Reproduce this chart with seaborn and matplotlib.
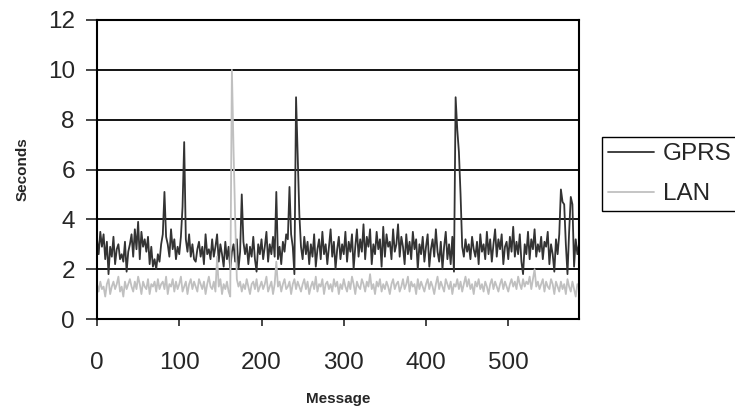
import matplotlib
matplotlib.use("Agg")
import matplotlib.pyplot as plt
import pandas as pd
import seaborn as sns

# Message number (values every second message)
messages = list(range(0, 588, 2))

# Response time per message over GPRS, seconds
gprs = [
    3.2, 2.6, 3.5, 2.9, 3.4, 2.4, 3.1, 1.8, 2.9, 2.5,
    3.3, 2.2, 2.8, 3.0, 2.4, 2.6, 2.3, 3.1, 1.9, 2.7,
    3.0, 3.4, 2.5, 3.6, 2.8, 3.9, 2.4, 3.5, 2.9, 3.2,
    2.7, 3.3, 2.2, 2.9, 2.1, 2.4, 2.0, 2.6, 2.3, 3.0,
    3.4, 5.1, 3.3, 3.0, 2.5, 3.6, 2.8, 3.2, 2.4, 2.9,
    2.6, 3.3, 4.5, 7.1, 3.2, 2.7, 3.4, 2.5, 3.0, 2.4,
    2.3, 2.8, 3.1, 2.5, 2.9, 2.2, 3.4, 2.6, 2.8, 2.4,
    3.2, 2.5, 2.9, 3.4, 2.3, 3.0, 2.6, 2.1, 3.1, 2.4,
    2.9, 2.0, 2.7, 3.0, 2.3, 3.2, 2.0, 2.7, 5.0, 3.1,
    2.6, 3.0, 2.2, 2.9, 2.5, 3.3, 2.4, 1.9, 3.0, 2.6,
    3.2, 2.4, 2.9, 3.5, 2.3, 3.0, 2.6, 3.3, 2.5, 5.1,
    2.4, 2.9, 2.2, 3.1, 2.7, 3.4, 3.2, 5.3, 3.4, 2.9,
    1.8, 8.9, 6.6, 4.2, 2.9, 2.4, 3.3, 2.6, 3.1, 2.2,
    3.0, 2.5, 3.4, 2.1, 2.8, 3.2, 2.4, 3.5, 2.6, 3.0,
    2.2, 2.9, 3.6, 2.5, 3.1, 2.0, 2.8, 3.3, 2.4, 3.0,
    2.6, 3.5, 2.3, 3.1, 2.7, 3.4, 2.0, 2.9, 3.6, 2.5,
    3.2, 2.7, 3.8, 2.4, 3.3, 2.9, 3.6, 2.2, 3.0, 2.6,
    3.5, 2.8, 3.2, 2.1, 3.7, 2.5, 3.4, 2.9, 3.1, 2.4,
    3.6, 2.7, 3.0, 3.8, 2.5, 3.3, 2.9, 2.2, 3.4, 2.6,
    3.1, 2.4, 3.5, 2.8, 3.2, 2.0, 3.0, 2.6, 3.3, 2.3,
    2.9, 3.4, 2.1, 2.8, 3.2, 2.5, 3.6, 2.7, 2.3, 3.1,
    2.0, 2.9, 3.5, 2.4, 3.0, 2.2, 3.3, 1.9, 8.9, 7.6,
    6.7, 5.0, 2.9, 2.5, 3.2, 2.7, 3.0, 2.4, 3.3, 2.8,
    2.5, 3.1, 2.2, 3.4, 2.7, 3.0, 2.4, 3.5, 2.6, 3.2,
    2.3, 3.0, 3.6, 2.5, 3.2, 2.8, 3.4, 2.2, 2.9, 3.1,
    2.4, 3.3, 2.7, 3.7, 2.5, 3.1, 2.6, 3.4, 2.3, 1.8,
    3.0, 2.6, 3.5, 2.4, 3.2, 2.8, 3.6, 2.5, 3.0, 2.7,
    3.3, 2.4, 3.1, 2.9, 3.5, 2.2, 3.0, 2.6, 1.9, 3.2,
    2.6, 3.4, 5.2, 4.7, 4.6, 3.0, 1.8, 3.5, 4.9, 4.6,
    2.1, 3.2, 2.6, 3.0,
]

# Response time per message over LAN, seconds
lan = [
    1.4, 1.1, 1.5, 1.2, 1.3, 0.9, 1.4, 1.6, 1.0, 1.3,
    1.5, 1.2, 1.4, 1.7, 1.1, 1.3, 0.9, 1.5, 1.2, 1.4,
    1.6, 1.3, 1.1, 1.5, 1.2, 1.7, 1.4, 1.0, 1.5, 1.3,
    1.2, 1.6, 1.0, 1.4, 1.3, 1.5, 1.1, 1.6, 1.2, 1.4,
    1.5, 1.2, 1.7, 1.0, 1.4, 1.3, 1.6, 1.1, 1.5, 1.2,
    1.4, 1.7, 1.1, 1.3, 1.5, 1.0, 1.4, 1.6, 1.2, 1.5,
    1.3, 1.1, 1.6, 1.4, 1.2, 1.5, 1.0, 1.4, 1.7, 1.3,
    1.2, 1.5, 1.1, 2.5, 1.3, 1.6, 1.0, 1.4, 1.2, 1.5,
    1.1, 0.9, 10.0, 6.8, 4.0, 1.6, 1.3, 1.5, 1.1, 1.4,
    1.2, 1.6, 1.3, 1.0, 1.4, 1.5, 1.2, 1.6, 1.1, 1.3,
    1.5, 1.2, 1.4, 1.7, 1.1, 1.3, 1.5, 1.0, 1.4, 2.3,
    1.3, 1.5, 1.1, 1.4, 1.6, 1.2, 1.3, 1.5, 1.0, 1.4,
    1.6, 1.2, 1.5, 1.3, 1.1, 1.4, 1.6, 1.2, 1.5, 1.0,
    1.3, 1.5, 1.2, 1.7, 1.1, 1.4, 1.3, 1.6, 1.0, 1.4,
    1.5, 1.2, 1.4, 1.1, 1.6, 1.3, 1.5, 1.0, 1.4, 1.2,
    1.6, 1.3, 1.1, 1.5, 1.2, 1.7, 1.4, 1.0, 1.5, 1.3,
    1.2, 1.6, 1.4, 1.1, 1.5, 1.3, 1.8, 1.2, 1.4, 1.0,
    1.5, 1.3, 1.6, 1.1, 1.4, 1.2, 1.5, 1.3, 1.0, 1.4,
    1.6, 1.2, 1.4, 1.5, 1.1, 1.3, 1.6, 1.2, 1.4, 1.7,
    1.1, 1.5, 1.3, 1.4, 1.0, 1.6, 1.2, 1.5, 1.3, 1.1,
    1.4, 1.6, 1.2, 1.5, 1.3, 1.0, 1.4, 1.7, 1.2, 1.5,
    1.3, 1.1, 1.6, 1.4, 1.2, 1.5, 1.0, 1.4, 1.3, 1.6,
    1.2, 1.5, 1.1, 1.4, 1.7, 1.3, 1.6, 1.2, 1.4, 1.0,
    1.5, 1.3, 1.6, 1.2, 1.4, 1.1, 1.5, 1.3, 1.0, 1.4,
    1.6, 1.2, 1.5, 1.3, 1.1, 1.4, 1.6, 1.2, 1.5, 1.3,
    1.1, 1.4, 1.6, 1.3, 1.5, 1.2, 1.7, 1.4, 1.2, 1.6,
    1.3, 1.5, 1.4, 1.7, 1.2, 1.6, 2.0, 1.3, 1.5, 1.2,
    1.4, 1.6, 1.1, 1.5, 1.3, 1.2, 1.6, 1.4, 1.0, 1.5,
    1.3, 1.1, 1.5, 1.2, 1.4, 1.0, 1.6, 1.3, 1.1, 1.5,
    1.2, 0.9, 1.4, 1.3,
]

series_names = ["GPRS", "LAN"]
series_colors = ["#333333", "#c0c0c0"]
y_ticks = [0, 2, 4, 6, 8, 10, 12]
x_ticks = [0, 100, 200, 300, 400, 500]

# Long format for seaborn
df = pd.concat([
    pd.DataFrame({"Message": messages, "Seconds": gprs, "Series": "GPRS"}),
    pd.DataFrame({"Message": messages, "Seconds": lan, "Series": "LAN"}),
])

sns.set_style("white")
plt.rcParams["font.family"] = ["Liberation Sans", "DejaVu Sans"]

fig = plt.figure(figsize=(7.35, 4.12), dpi=100)
ax = fig.add_axes([97 / 735, 93 / 412, 482 / 735, 299 / 412])

sns.lineplot(data=df, x="Message", y="Seconds", hue="Series",
             hue_order=series_names, palette=series_colors,
             estimator=None, linewidth=1.3, ax=ax)

ax.set_xlim(0, 586)
ax.set_ylim(0, 12)
ax.set_xticks(x_ticks)
ax.set_yticks(y_ticks)

# black horizontal gridlines like the old spreadsheet chart
for yv in y_ticks[1:]:
    ax.axhline(yv, color="black", linewidth=1.3, zorder=0)

for sp in ax.spines.values():
    sp.set_color("black")
    sp.set_linewidth(1.5)

ax.tick_params(axis="y", direction="out", length=8, width=1.2,
               pad=8, labelsize=17.5, left=True)
ax.tick_params(axis="x", direction="out", length=5, width=1.2,
               pad=19, labelsize=17.5, bottom=True)

ax.set_xlabel("Message", fontweight="bold", fontsize=11)
ax.set_ylabel("Seconds", fontweight="bold", fontsize=11)
ax.xaxis.set_label_coords(0.5, -0.245)
ax.yaxis.set_label_coords(-0.139, 0.5)

leg = ax.legend(loc="upper left", bbox_to_anchor=(602 / 735, 1 - 137 / 412),
                bbox_transform=fig.transFigure, frameon=True, fancybox=False,
                edgecolor="black", framealpha=1, fontsize=17.5,
                handlelength=1.9, handletextpad=0.37, borderpad=0.25,
                labelspacing=0.75, borderaxespad=0)
leg.get_frame().set_linewidth(1.0)
for line in leg.get_lines():
    line.set_linewidth(1.3)

fig.savefig("out.png", dpi=100)
